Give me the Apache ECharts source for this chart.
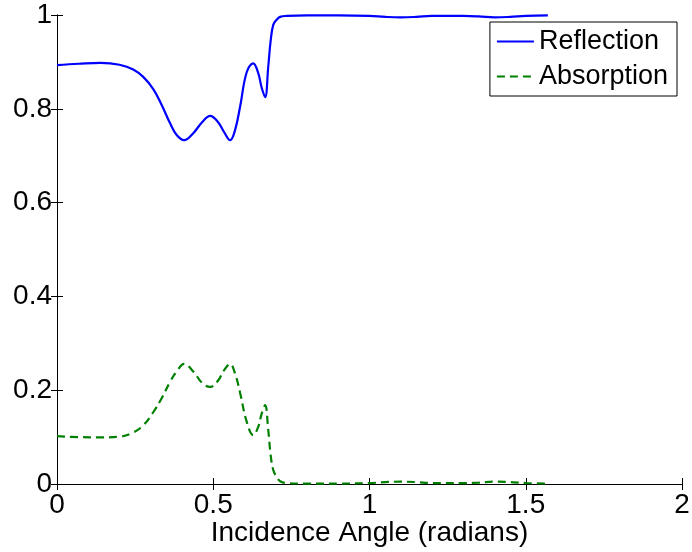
<!DOCTYPE html>
<html>
<head>
<meta charset="utf-8">
<script src="https://cdn.jsdelivr.net/npm/echarts@6/dist/echarts.min.js"></script>
<style>html,body{margin:0;padding:0;background:#fff}#c{width:692px;height:552px}</style>
</head>
<body>
<div id="c"></div>
<script>
const angle = [0, 0.07, 0.14, 0.2, 0.244, 0.276, 0.308, 0.335, 0.362, 0.383, 0.407, 0.436, 0.465, 0.49, 0.515, 0.535, 0.554, 0.57, 0.586, 0.607, 0.628, 0.644, 0.655, 0.666, 0.676, 0.684, 0.692, 0.703, 0.714, 0.735, 0.8, 0.9, 1.0, 1.05, 1.1, 1.15, 1.2, 1.3, 1.35, 1.4, 1.45, 1.5, 1.5708];
const reflection = [0.893, 0.896, 0.898, 0.894, 0.884, 0.868, 0.842, 0.808, 0.769, 0.744, 0.733, 0.748, 0.772, 0.785, 0.772, 0.75, 0.733, 0.755, 0.805, 0.878, 0.897, 0.876, 0.845, 0.825, 0.89, 0.947, 0.979, 0.99, 0.996, 0.998, 0.999, 0.999, 0.998, 0.996, 0.995, 0.996, 0.998, 0.998, 0.997, 0.995, 0.996, 0.998, 0.999];
const absorption = [0.102, 0.1, 0.0995, 0.101, 0.11, 0.125, 0.153, 0.183, 0.218, 0.24, 0.256, 0.24, 0.215, 0.207, 0.22, 0.243, 0.256, 0.235, 0.194, 0.133, 0.104, 0.122, 0.15, 0.168, 0.115, 0.06, 0.03, 0.015, 0.006, 0.002, 0.001, 0.001, 0.002, 0.004, 0.005, 0.004, 0.002, 0.002, 0.003, 0.005, 0.004, 0.002, 0.001];
const seriesNames = ['Reflection', 'Absorption'];
const xTitle = 'Incidence Angle (radians)';

const font = '"Liberation Sans", Arial, Helvetica, sans-serif';
const chart = echarts.init(document.getElementById('c'), null, {renderer: 'canvas'});
const axisCommon = {
  axisLine: {show: true, lineStyle: {color: '#000', width: 1}},
  axisTick: {show: true, inside: true, length: 6, lineStyle: {color: '#000'}},
  splitLine: {show: false}
};
chart.setOption({
  animation: false,
  backgroundColor: '#fff',
  grid: {left: 57, right: 10, top: 15, bottom: 68, containLabel: false, outerBoundsMode: 'none'},
  legend: {
    data: seriesNames,
    orient: 'vertical',
    right: 15, top: 22,
    padding: [6, 9, 6, 6],
    itemGap: 8,
    itemWidth: 37, itemHeight: 14,
    backgroundColor: '#fff',
    borderColor: '#000', borderWidth: 1, borderRadius: 0,
    itemStyle: {opacity: 0},
    textStyle: {fontFamily: font, fontSize: 27, color: '#000', lineHeight: 27}
  },
  xAxis: [
    Object.assign({
      type: 'value', min: 0, max: 2, interval: 0.5, position: 'bottom',
      name: xTitle, nameLocation: 'middle', nameGap: 35, nameMoveOverlap: false,
      nameTextStyle: {fontFamily: font, fontSize: 28, color: '#000'},
      axisLabel: {fontFamily: font, fontSize: 28, color: '#000', margin: 7}
    }, axisCommon),
    Object.assign({
      type: 'value', min: 0, max: 2, interval: 0.5, position: 'top',
      axisLabel: {show: false}
    }, axisCommon)
  ],
  yAxis: [
    Object.assign({
      type: 'value', min: 0, max: 1, interval: 0.2, position: 'left',
      axisLabel: {fontFamily: font, fontSize: 28, color: '#000', margin: 5}
    }, axisCommon),
    Object.assign({
      type: 'value', min: 0, max: 1, interval: 0.2, position: 'right',
      axisLabel: {show: false}
    }, axisCommon)
  ],
  series: [
    {
      name: seriesNames[0], type: 'line', xAxisIndex: 0, yAxisIndex: 0,
      data: angle.map((a, i) => [a, reflection[i]]),
      showSymbol: false, symbol: 'none', smooth: 0.4,
      lineStyle: {color: '#0000ff', width: 2.2},
      itemStyle: {color: '#0000ff'}
    },
    {
      name: seriesNames[1], type: 'line', xAxisIndex: 0, yAxisIndex: 0,
      data: angle.map((a, i) => [a, absorption[i]]),
      showSymbol: false, symbol: 'none', smooth: 0.4,
      lineStyle: {color: '#008000', width: 2.2, type: [8, 5]},
      itemStyle: {color: '#008000'}
    }
  ]
});
</script>
</body>
</html>
